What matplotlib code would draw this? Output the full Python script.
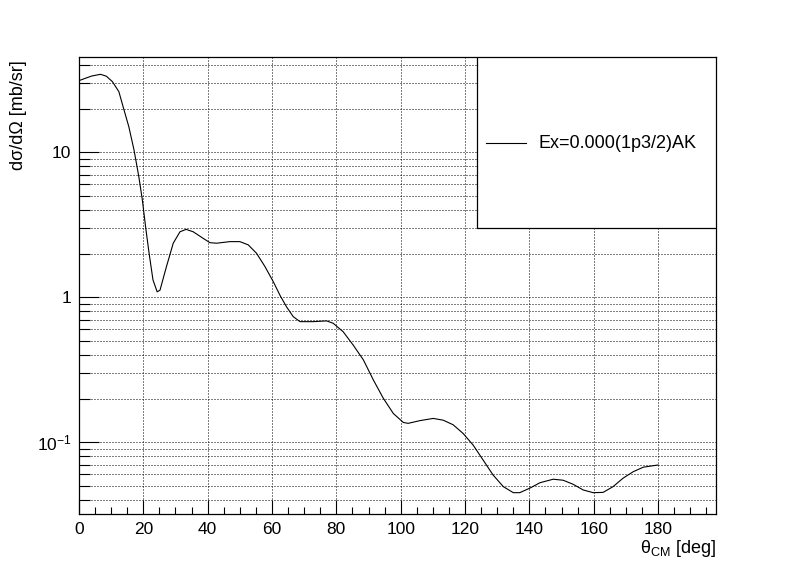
import matplotlib
matplotlib.use("Agg")
import matplotlib.pyplot as plt
from matplotlib.ticker import FixedLocator, FixedFormatter, MultipleLocator, NullFormatter
from matplotlib.lines import Line2D
from matplotlib.patches import Rectangle

plt.rcParams["font.family"] = ["Liberation Sans", "DejaVu Sans"]
plt.rcParams["mathtext.fontset"] = "custom"
plt.rcParams["mathtext.rm"] = "Liberation Sans"
plt.rcParams["mathtext.it"] = "Liberation Sans"

# angulo CM (deg) y seccion eficaz (mb/sr)
theta = [0, 2, 4, 6.7, 8.5, 10.4, 12.4, 14.0, 15.5, 17.1, 18.6, 19.7, 20.7,
         21.8, 23.0, 24.3, 25.2, 25.9, 27.2, 27.8, 29.3, 31.4, 33.3, 35.5,
         38.6, 40.7, 42.8, 46.9, 50.0, 52.6, 55.2, 57.8, 60.4, 62.5, 64.5,
         66.6, 68.7, 72.8, 77.0, 79.0, 82.1, 85.2, 88.4, 91.5, 94.6, 97.7,
         100.8, 102.3, 106.0, 110.1, 113.2, 116.3, 119.4, 122.5, 125.6,
         128.7, 131.9, 135.0, 137.0, 140.1, 143.3, 147.4, 150.5, 153.6,
         156.7, 159.8, 162.9, 166.0, 169.1, 172.3, 175.4, 180.0]
xsec = [31.2, 32.4, 33.6, 34.5, 33.5, 30.7, 26.2, 19.6, 15.0, 10.4, 6.8, 4.69,
        3.07, 2.01, 1.32, 1.09, 1.12, 1.28, 1.63, 1.81, 2.36, 2.83, 2.94, 2.83,
        2.55, 2.38, 2.36, 2.42, 2.42, 2.30, 2.01, 1.63, 1.28, 1.03, 0.86,
        0.735, 0.679, 0.679, 0.687, 0.662, 0.579, 0.469, 0.370, 0.269, 0.201,
        0.158, 0.137, 0.135, 0.141, 0.146, 0.142, 0.132, 0.115, 0.0957,
        0.0755, 0.0595, 0.0494, 0.0449, 0.0449, 0.0482, 0.0526, 0.0556,
        0.0547, 0.0513, 0.0469, 0.0449, 0.0451, 0.0494, 0.0565, 0.0627,
        0.0673, 0.0697]

leyenda = "Ex=0.000(1p3/2)AK"
y_ticks = [0.1, 1, 10]
y_ticklabels = [r"$10^{-1}$", "1", "10"]
y_minor = [m * 10.0 ** e for e in (-2, -1, 0, 1) for m in range(2, 10)]

fig = plt.figure(figsize=(7.96, 5.72), dpi=100)
ax = fig.add_axes([0.0992, 0.1014, 0.8003, 0.7989])

ax.plot(theta, xsec, color="black", lw=0.8)

ax.set_yscale("log")
ax.set_xlim(0, 198)
ax.set_ylim(0.032, 45.4)

ax.xaxis.set_major_locator(MultipleLocator(20))
ax.xaxis.set_minor_locator(MultipleLocator(5))
ax.yaxis.set_major_locator(FixedLocator(y_ticks))
ax.yaxis.set_major_formatter(FixedFormatter(y_ticklabels))
ax.yaxis.set_minor_locator(FixedLocator(y_minor))
ax.yaxis.set_minor_formatter(NullFormatter())

ax.tick_params(axis="both", which="both", direction="in", top=False, right=False,
               width=0.8, labelsize=12.5)
ax.tick_params(axis="y", which="major", length=14.2, pad=5.5)
ax.tick_params(axis="y", which="minor", length=7.6)
ax.tick_params(axis="x", which="major", length=9.8, pad=5.5)
ax.tick_params(axis="x", which="minor", length=5.4)

grid_kw = dict(color="black", lw=0.72, linestyle=(0, (1, 2)))
ax.grid(True, axis="x", which="major", **grid_kw)
ax.grid(True, axis="y", which="both", **grid_kw)
ax.set_axisbelow(False)

for s in ax.spines.values():
    s.set_linewidth(0.9)
    s.set_color("black")

# titulos estilo ROOT (alineados al final del eje)
ax.text(1.0, -0.052, r"$θ_{CM}$ [deg]", transform=ax.transAxes,
        ha="right", va="top", fontsize=13)
fig.text(0.0235, 0.895, "dσ/dΩ [mb/sr]", rotation=90, ha="center", va="top",
         fontsize=13)

# leyenda
ax.add_patch(Rectangle((0.625, 0.626), 0.375, 0.374, transform=ax.transAxes,
                       facecolor="white", edgecolor="black", lw=0.9, zorder=5))
ax.add_line(Line2D([0.639, 0.7025], [0.811, 0.811], transform=ax.transAxes,
                   color="black", lw=0.8, zorder=6))
ax.text(0.721, 0.811, leyenda, transform=ax.transAxes, ha="left",
        va="center", fontsize=13, zorder=6)

fig.savefig("out.png", dpi=100)
